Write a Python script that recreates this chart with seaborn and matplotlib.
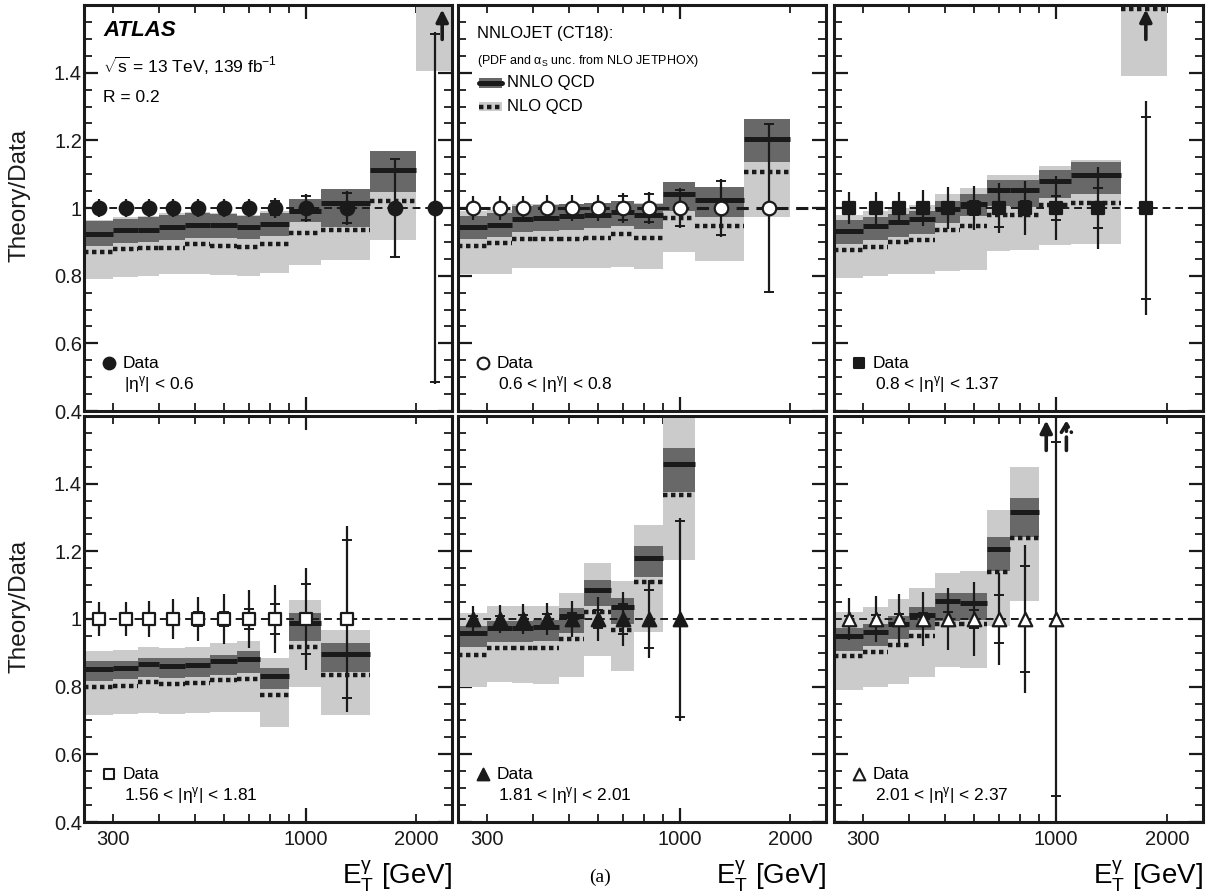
import numpy as np
import matplotlib.pyplot as plt
import seaborn as sns
from matplotlib.ticker import FixedLocator, FuncFormatter, MultipleLocator

sns.set_theme(style="ticks")
plt.rcParams['font.family'] = ['Liberation Sans', 'DejaVu Sans']
plt.rcParams['mathtext.fontset'] = 'custom'
plt.rcParams['mathtext.rm'] = 'Liberation Sans'
plt.rcParams['mathtext.it'] = 'Liberation Sans'
plt.rcParams['mathtext.bf'] = 'Liberation Sans:bold'
plt.rcParams['text.color'] = 'black'
plt.rcParams['axes.labelcolor'] = 'black'

# E_T^gamma bins [GeV]
edges = np.array([250, 300, 350, 400, 470, 550, 650, 750, 900, 1100, 1500, 2000, 2500])

# |eta| < 0.6
nnlo1 = [0.924, 0.934, 0.935, 0.944, 0.949, 0.949, 0.944, 0.954, 0.992, 1.015, 1.111, 1.90]
nnlo1_lo = [0.887, 0.897, 0.900, 0.906, 0.912, 0.912, 0.908, 0.918, 0.960, 0.945, 1.047, 1.75]
nnlo1_hi = [0.962, 0.968, 0.972, 0.980, 0.984, 0.982, 0.975, 0.986, 1.027, 1.057, 1.168, 2.05]
nlo1 = [0.870, 0.880, 0.881, 0.882, 0.894, 0.887, 0.885, 0.894, 0.926, 0.934, 1.022, 1.70]
nlo1_lo = [0.790, 0.796, 0.798, 0.806, 0.805, 0.803, 0.800, 0.808, 0.832, 0.845, 0.906, 1.405]
nlo1_hi = [0.966, 0.972, 0.975, 0.984, 0.988, 0.986, 0.980, 0.990, 0.990, 1.000, 1.050, 2.00]
tot1 = [0.027, 0.027, 0.027, 0.027, 0.027, 0.027, 0.028, 0.030, 0.040, 0.050, 0.147, 0.52]
stat1 = [0.005, 0.006, 0.007, 0.008, 0.010, 0.012, 0.015, 0.020, 0.035, 0.043, 0.146, 0.515]

# 0.6 < |eta| < 0.8
nnlo2 = [0.944, 0.951, 0.968, 0.971, 0.975, 0.980, 0.988, 0.980, 1.042, 1.023, 1.204]
nnlo2_lo = [0.909, 0.913, 0.930, 0.933, 0.936, 0.940, 0.948, 0.938, 0.992, 0.972, 1.135]
nnlo2_hi = [0.975, 0.985, 1.005, 1.008, 1.012, 1.015, 1.020, 1.012, 1.076, 1.061, 1.262]
nlo2 = [0.889, 0.896, 0.909, 0.909, 0.909, 0.910, 0.924, 0.911, 0.970, 0.946, 1.106]
nlo2_lo = [0.804, 0.806, 0.822, 0.823, 0.823, 0.823, 0.826, 0.820, 0.870, 0.844, 0.972]
nlo2_hi = [0.990, 0.995, 1.012, 1.012, 1.013, 1.015, 1.022, 1.014, 1.050, 1.030, 1.200]
tot2 = [0.035, 0.035, 0.036, 0.037, 0.037, 0.038, 0.043, 0.047, 0.058, 0.085, 0.25]
stat2 = [0.005, 0.006, 0.008, 0.010, 0.012, 0.016, 0.036, 0.042, 0.052, 0.079, 0.248]

# 0.8 < |eta| < 1.37
nnlo3 = [0.931, 0.948, 0.959, 0.968, 0.998, 1.013, 1.054, 1.052, 1.081, 1.097, 1.85]
nnlo3_lo = [0.894, 0.904, 0.913, 0.924, 0.955, 0.975, 1.006, 1.002, 1.029, 1.041, 1.70]
nnlo3_hi = [0.965, 0.972, 0.983, 0.990, 1.020, 1.040, 1.082, 1.082, 1.111, 1.135, 2.00]
nlo3 = [0.877, 0.886, 0.899, 0.906, 0.934, 0.946, 0.980, 0.980, 1.008, 1.015, 1.588]
nlo3_lo = [0.793, 0.800, 0.804, 0.806, 0.815, 0.817, 0.874, 0.877, 0.890, 0.893, 1.390]
nlo3_hi = [0.980, 0.990, 1.000, 1.010, 1.042, 1.058, 1.099, 1.099, 1.125, 1.143, 1.80]
tot3 = [0.046, 0.047, 0.048, 0.052, 0.062, 0.065, 0.073, 0.080, 0.095, 0.120, 0.316]
stat3 = [0.006, 0.008, 0.010, 0.012, 0.015, 0.020, 0.055, 0.022, 0.034, 0.060, 0.268]

# 1.56 < |eta| < 1.81
nnlo4 = [0.852, 0.855, 0.867, 0.862, 0.865, 0.875, 0.882, 0.833, 0.988, 0.897]
nnlo4_lo = [0.818, 0.822, 0.830, 0.826, 0.828, 0.834, 0.840, 0.793, 0.936, 0.842]
nnlo4_hi = [0.875, 0.877, 0.886, 0.884, 0.886, 0.893, 0.905, 0.855, 1.018, 0.928]
nlo4 = [0.800, 0.803, 0.813, 0.808, 0.811, 0.820, 0.823, 0.776, 0.918, 0.835]
nlo4_lo = [0.717, 0.718, 0.722, 0.719, 0.722, 0.724, 0.724, 0.680, 0.800, 0.717]
nlo4_hi = [0.906, 0.909, 0.918, 0.914, 0.918, 0.930, 0.935, 0.885, 1.056, 0.967]
tot4 = [0.050, 0.050, 0.053, 0.059, 0.064, 0.075, 0.086, 0.100, 0.152, 0.275]
stat4 = [0.010, 0.012, 0.014, 0.016, 0.020, 0.022, 0.030, 0.044, 0.102, 0.233]

# 1.81 < |eta| < 2.01
nnlo5 = [0.958, 0.973, 0.973, 0.977, 1.008, 1.087, 1.034, 1.180, 1.458]
nnlo5_lo = [0.916, 0.931, 0.931, 0.934, 0.960, 1.039, 0.985, 1.123, 1.376]
nnlo5_hi = [0.980, 0.995, 0.995, 0.997, 1.033, 1.116, 1.061, 1.215, 1.504]
nlo5 = [0.895, 0.914, 0.914, 0.914, 0.941, 1.020, 0.968, 1.110, 1.367]
nlo5_lo = [0.800, 0.813, 0.810, 0.808, 0.830, 0.892, 0.845, 0.961, 1.174]
nlo5_hi = [1.017, 1.039, 1.039, 1.039, 1.076, 1.166, 1.111, 1.279, 1.595]
tot5 = [0.037, 0.042, 0.044, 0.047, 0.054, 0.064, 0.080, 0.115, 0.300]
stat5 = [0.008, 0.010, 0.012, 0.014, 0.018, 0.026, 0.045, 0.086, 0.289]

# 2.01 < |eta| < 2.37
nnlo6 = [0.951, 0.963, 0.985, 1.012, 1.052, 1.047, 1.207, 1.315, 1.85]
nnlo6_lo = [0.906, 0.919, 0.941, 0.967, 0.995, 0.997, 1.143, 1.241, 1.70]
nnlo6_hi = [0.973, 0.985, 1.008, 1.034, 1.076, 1.076, 1.241, 1.358, 2.00]
nlo6 = [0.892, 0.903, 0.923, 0.951, 0.985, 0.985, 1.138, 1.238, 1.80]
nlo6_lo = [0.790, 0.798, 0.808, 0.830, 0.859, 0.855, 0.980, 1.054, 1.65]
nlo6_hi = [1.020, 1.034, 1.059, 1.092, 1.136, 1.141, 1.323, 1.448, 2.00]
tot6 = [0.062, 0.067, 0.073, 0.080, 0.093, 0.110, 0.137, 0.218, 0.56]
stat6 = [0.010, 0.012, 0.015, 0.018, 0.022, 0.028, 0.070, 0.158, 0.523]

eta_labels = [r'|η$^{\gamma}$| < 0.6', r'0.6 < |η$^{\gamma}$| < 0.8', r'0.8 < |η$^{\gamma}$| < 1.37',
              r'1.56 < |η$^{\gamma}$| < 1.81', r'1.81 < |η$^{\gamma}$| < 2.01', r'2.01 < |η$^{\gamma}$| < 2.37']

panels = [
    (nnlo1, nnlo1_lo, nnlo1_hi, nlo1, nlo1_lo, nlo1_hi, tot1, stat1),
    (nnlo2, nnlo2_lo, nnlo2_hi, nlo2, nlo2_lo, nlo2_hi, tot2, stat2),
    (nnlo3, nnlo3_lo, nnlo3_hi, nlo3, nlo3_lo, nlo3_hi, tot3, stat3),
    (nnlo4, nnlo4_lo, nnlo4_hi, nlo4, nlo4_lo, nlo4_hi, tot4, stat4),
    (nnlo5, nnlo5_lo, nnlo5_hi, nlo5, nlo5_lo, nlo5_hi, tot5, stat5),
    (nnlo6, nnlo6_lo, nnlo6_hi, nlo6, nlo6_lo, nlo6_hi, tot6, stat6),
]
# marker, filled?, size
markers = [('o', True, 95), ('o', False, 95), ('s', True, 80), ('s', False, 80), ('^', True, 95), ('^', False, 95)]
# off-scale theory: (panel, bin, x shift factor, solid?)
arrows = [(0, 11, 1.045, True), (2, 10, 1.0, True), (5, 8, 0.94, True), (5, 8, 1.066, False)]

LIGHT = '#cbcbcb'
DARK = '#686868'
W, H = 1211, 894
cols = [(84, 452), (458, 826), (834, 1203)]
rows = [(5, 411), (416, 822)]

fig = plt.figure(figsize=(W / 100, H / 100), dpi=100)
axes = []
for k, (nn, nn_lo, nn_hi, nl, nl_lo, nl_hi, tot, stat) in enumerate(panels):
    r, c = divmod(k, 3)
    x0, x1 = cols[c]
    y0, y1 = rows[r]
    ax = fig.add_axes([x0 / W, 1 - y1 / H, (x1 - x0) / W, (y1 - y0) / H])
    axes.append(ax)
    n = len(nn)
    lo_e, hi_e = edges[:n], edges[1:n + 1]
    centers = (lo_e + hi_e) / 2
    nn, nn_lo, nn_hi = map(np.asarray, (nn, nn_lo, nn_hi))
    nl, nl_lo, nl_hi = map(np.asarray, (nl, nl_lo, nl_hi))
    tot, stat = np.asarray(tot), np.asarray(stat)

    ax.bar(lo_e, nl_hi - nl_lo, bottom=nl_lo, width=hi_e - lo_e, align='edge', color=LIGHT, lw=0, zorder=1)
    ax.bar(lo_e, nn_hi - nn_lo, bottom=nn_lo, width=hi_e - lo_e, align='edge', color=DARK, lw=0, zorder=2)
    ax.hlines(nl, lo_e, hi_e, colors='k', lw=3.2, linestyles=[(0, (1.0, 0.8))], zorder=3)
    ax.hlines(nn, lo_e, hi_e, colors='k', lw=3.6, zorder=3)
    ax.axhline(1, color='k', lw=2.2 if k == 1 else 1.4, ls=(0, (4, 2.5)), zorder=4)

    ratio = np.ones(n)
    ax.errorbar(centers, ratio, yerr=tot, fmt='none', ecolor='k', elinewidth=1.6, capsize=0, zorder=5)
    ax.plot(centers, ratio + stat, ls='none', marker='_', ms=7, mew=1.4, color='k', zorder=5)
    ax.plot(centers, ratio - stat, ls='none', marker='_', ms=7, mew=1.4, color='k', zorder=5)
    m, filled, s = markers[k]
    sns.scatterplot(x=centers, y=ratio, marker=m, s=s, color='k' if filled else 'white',
                    edgecolor='k', linewidth=1.6, ax=ax, zorder=6, legend=False)

    # legend-like label at bottom left
    ax.scatter([0.068], [0.118], marker=m, s=s * 0.75, color='k' if filled else 'white', edgecolor='k',
               linewidth=1.5, transform=ax.transAxes, zorder=7, clip_on=False)
    ax.text(0.104, 0.118, 'Data', transform=ax.transAxes, fontsize=12.5, va='center', ha='left')
    ax.text(0.11, 0.066, eta_labels[k], transform=ax.transAxes, fontsize=12.5, va='center', ha='left')

    ax.set_xscale('log')
    ax.set_xlim(250, 2500)
    ax.set_ylim(0.4, 1.6)
    ax.xaxis.set_major_locator(FixedLocator([1000]))
    ax.xaxis.set_minor_locator(FixedLocator([300, 400, 500, 600, 700, 800, 900, 2000]))
    ax.xaxis.set_major_formatter(FuncFormatter(lambda v, _: f'{v:g}'))
    ax.xaxis.set_minor_formatter(FuncFormatter(lambda v, _: f'{v:g}' if round(v) in (300, 2000) else ''))
    ax.yaxis.set_major_locator(FixedLocator([0.4, 0.6, 0.8, 1.0, 1.2, 1.4]))
    ax.yaxis.set_minor_locator(MultipleLocator(0.05))
    ax.yaxis.set_major_formatter(FuncFormatter(lambda v, _: f'{v:g}'))
    ax.tick_params(which='both', direction='in', top=True, right=True, labelsize=14.5, colors='k')
    ax.tick_params(which='major', length=10, width=1.6)
    ax.tick_params(which='minor', length=5.5, width=1.3)
    ax.tick_params(axis='y', which='both', pad=1.5)
    ax.tick_params(axis='x', which='both', pad=6)
    for sp in ax.spines.values():
        sp.set_linewidth(2.2)
        sp.set_color('k')
    if c > 0:
        ax.tick_params(axis='y', which='both', labelleft=False)
    else:
        ax.set_ylabel('Theory/Data', fontsize=17.5, color='k')
        ax.yaxis.set_label_coords(-0.145, 0.53)
    if r == 0:
        ax.tick_params(axis='x', which='both', labelbottom=False)
    else:
        ax.text(1.0, -0.153, r'E$_{\mathrm{T}}^{\gamma}$ [GeV]', transform=ax.transAxes,
                fontsize=20, ha='right', va='baseline')

for k, b, f, solid in arrows:
    ax = axes[k]
    x = (edges[b] + edges[b + 1]) / 2 * f
    if solid:
        ax.annotate('', xy=(x, 1.595), xytext=(x, 1.49),
                    arrowprops=dict(arrowstyle='-|>,head_length=0.6,head_width=0.3', lw=2.6, color='k'),
                    zorder=8)
    else:
        ax.annotate('', xy=(x, 1.595), xytext=(x, 1.49),
                    arrowprops=dict(arrowstyle='->,head_length=0.5,head_width=0.3', lw=2.6, color='k',
                                    linestyle='--'), zorder=8)

# panel texts
a0 = axes[0]
a0.text(0.052, 0.938, 'ATLAS', transform=a0.transAxes, fontsize=16, fontweight='bold', fontstyle='italic',
        va='center')
a0.text(0.052, 0.850, r'$\sqrt{\mathrm{s}}$ = 13 TeV, 139 fb$^{-1}$', transform=a0.transAxes, fontsize=12.5,
        va='center')
a0.text(0.052, 0.773, 'R = 0.2', transform=a0.transAxes, fontsize=12.5, va='center')

a1 = axes[1]
a1.text(0.052, 0.931, 'NNLOJET (CT18):', transform=a1.transAxes, fontsize=12, va='center')
a1.text(0.052, 0.862, r'(PDF and α$_{\mathrm{S}}$ unc. from NLO JETPHOX)', transform=a1.transAxes,
        fontsize=9, va='center')
a1.add_patch(plt.Rectangle((0.057, 0.795), 0.063, 0.026, transform=a1.transAxes, color=DARK, lw=0))
a1.plot([0.057, 0.120], [0.808, 0.808], transform=a1.transAxes, color='k', lw=3.6)
a1.add_patch(plt.Rectangle((0.057, 0.738), 0.063, 0.024, transform=a1.transAxes, color=LIGHT, lw=0))
a1.plot([0.057, 0.120], [0.750, 0.750], transform=a1.transAxes, color='k', lw=3.2, ls=(0, (1.0, 0.8)))
a1.text(0.133, 0.808, 'NNLO QCD', transform=a1.transAxes, fontsize=12, va='center')
a1.text(0.133, 0.750, 'NLO QCD', transform=a1.transAxes, fontsize=12, va='center')

fig.text(600 / W, 1 - 877 / H, '(a)', fontsize=14, family='Liberation Serif', ha='center', va='center')

fig.savefig('out.png', dpi=100, facecolor='white')
